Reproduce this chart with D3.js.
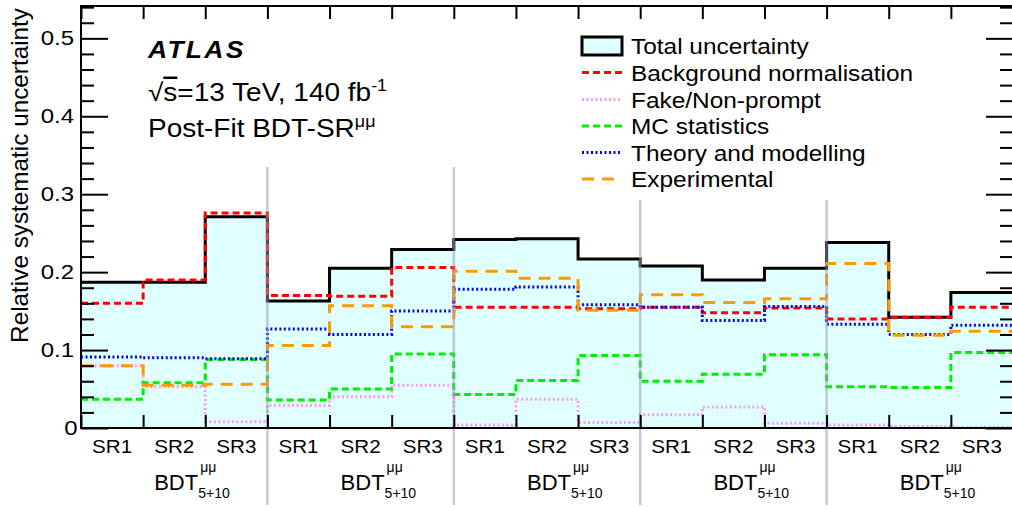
<!DOCTYPE html>
<html>
<head>
<meta charset="utf-8">
<script src="https://cdn.jsdelivr.net/npm/d3@7"></script>
<style>
  body { margin: 0; background: #fff; }
  text { font-family: 'Liberation Sans', Arial, Helvetica, sans-serif; fill: #000; }
</style>
</head>
<body>
<div id="chart"></div>
<script>
// Bins: 5 groups of BDT(5+10) x SR1..SR3
const groups = ['BDT', 'BDT', 'BDT', 'BDT', 'BDT'];
const regions = ['SR1', 'SR2', 'SR3'];

// Relative systematic uncertainty per bin
const totalUnc   = [0.187, 0.187, 0.271, 0.163, 0.205, 0.229, 0.242, 0.243, 0.217, 0.208, 0.190, 0.205, 0.238, 0.142, 0.174];
const bkgNorm    = [0.160, 0.190, 0.276, 0.170, 0.169, 0.206, 0.155, 0.155, 0.153, 0.155, 0.148, 0.154, 0.140, 0.142, 0.155];
const fakeNP     = [0.080, 0.053, 0.008, 0.029, 0.040, 0.055, 0.004, 0.037, 0.007, 0.017, 0.027, 0.006, 0.004, 0.002, 0.001];
const mcStat     = [0.037, 0.058, 0.088, 0.036, 0.050, 0.095, 0.043, 0.061, 0.093, 0.060, 0.069, 0.094, 0.053, 0.052, 0.097];
const theory     = [0.091, 0.090, 0.089, 0.127, 0.120, 0.150, 0.178, 0.181, 0.158, 0.155, 0.138, 0.156, 0.133, 0.120, 0.132];
const experiment = [0.080, 0.055, 0.056, 0.106, 0.157, 0.130, 0.201, 0.192, 0.151, 0.171, 0.161, 0.166, 0.211, 0.119, 0.124];

const yMajor = [0, 0.1, 0.2, 0.3, 0.4, 0.5];

const nBins = totalUnc.length;

// Size of the picture
const width = 1012;
const height = 508;

const svg = d3.select('#chart')
    .append('svg')
    .attr('width', width)
    .attr('height', height);

// Scales
const x = d3.scaleLinear().domain([0, nBins]).range([81, 1013]);
const y = d3.scaleLinear().domain([0, 0.5415]).range([428, 6]);

// the original text is a bit wider than Liberation Sans, so stretch it
function addText(parent, tx, ty, size, sx, str) {
    return parent.append('text')
        .attr('transform', `translate(${tx}, ${ty}) scale(${sx}, 1)`)
        .attr('font-size', size)
        .text(str);
}

// step line through the bins
function stepPath(vals) {
    const pts = vals.map((v, i) => [x(i), y(v)]);
    pts.push([x(vals.length), y(vals[vals.length - 1])]);
    return d3.line().curve(d3.curveStepAfter)(pts);
}

// Filled total uncertainty
const area = d3.area()
    .curve(d3.curveStepAfter)
    .x(d => x(d.i))
    .y0(y(0))
    .y1(d => y(d.v));
const areaPts = totalUnc.map((v, i) => ({ i: i, v: v }));
areaPts.push({ i: nBins, v: totalUnc[nBins - 1] });

svg.append('path')
    .attr('d', area(areaPts))
    .attr('fill', '#e0ffff');

// Component lines
const series = [
    { name: 'Total uncertainty', vals: totalUnc, color: '#000000', dash: null, width: 3 },
    { name: 'Background normalisation', vals: bkgNorm, color: '#ff0000', dash: '7,4', width: 3 },
    { name: 'Fake/Non-prompt', vals: fakeNP, color: '#f59cf5', dash: '2,2.5', width: 3 },
    { name: 'MC statistics', vals: mcStat, color: '#00ee00', dash: '7,4', width: 3 },
    { name: 'Theory and modelling', vals: theory, color: '#0000ff', dash: '2,2.5', width: 3 },
    { name: 'Experimental', vals: experiment, color: '#ff9900', dash: '12,8', width: 3 }
];

svg.selectAll('.hist')
    .data(series)
    .enter()
    .append('path')
    .attr('class', 'hist')
    .attr('d', d => stepPath(d.vals))
    .attr('fill', 'none')
    .attr('stroke', d => d.color)
    .attr('stroke-width', d => d.width)
    .attr('stroke-dasharray', d => d.dash);

// Group separators
const sepBins = [3, 6, 9, 12];
const sepTop = [167, 167, 200, 200];
svg.selectAll('.sep')
    .data(sepBins)
    .enter()
    .append('line')
    .attr('class', 'sep')
    .attr('x1', d => x(d))
    .attr('x2', d => x(d))
    .attr('y1', (d, i) => sepTop[i])
    .attr('y2', 505)
    .attr('stroke', '#9c9cb2')
    .attr('stroke-opacity', 0.55)
    .attr('stroke-width', 2.5);

// Axes (ticks point inwards)
const yMinor = d3.range(0, 0.541, 0.02).filter(v => Math.abs(v * 10 - Math.round(v * 10)) > 1e-6);

const yAxisMajor = d3.axisLeft(y)
    .tickValues(yMajor)
    .tickSize(-27)
    .tickPadding(6)
    .tickFormat(d => d === 0 ? '0' : d3.format('.1f')(d));
const yAxisMinor = d3.axisLeft(y).tickValues(yMinor).tickSize(-13).tickFormat('');
const yRightMajor = d3.axisRight(y).tickValues(yMajor).tickSize(-27).tickFormat('');
const yRightMinor = d3.axisRight(y).tickValues(yMinor).tickSize(-13).tickFormat('');
const xBottom = d3.axisBottom(x).tickValues(d3.range(0, nBins + 1)).tickSize(-13).tickFormat('');
const xTop = d3.axisTop(x).tickValues(d3.range(0, nBins + 1)).tickSize(-13).tickFormat('');

function addAxis(axis, tx, ty) {
    const g = svg.append('g')
        .attr('transform', `translate(${tx}, ${ty})`)
        .call(axis);
    g.select('.domain').remove();
    g.selectAll('line').attr('stroke', '#000').attr('stroke-width', 2);
    g.selectAll('text')
        .attr('font-size', '20.5px')
        .attr('transform', 'scale(1.17, 1)')
        .style('font-family', "'Liberation Sans', Arial, sans-serif")
        .attr('fill', '#000');
    return g;
}
const yAxisG = addAxis(yAxisMajor, 81, 0);
yAxisG.selectAll('text').filter(d => d === 0).attr('x', -3);
addAxis(yAxisMinor, 81, 0);
addAxis(yRightMajor, 1013, 0);
addAxis(yRightMinor, 1013, 0);
addAxis(xBottom, 0, 428);
addAxis(xTop, 0, 6);

// Frame
svg.append('rect')
    .attr('x', 81)
    .attr('y', 6)
    .attr('width', 1013 - 81)
    .attr('height', 428 - 6)
    .attr('fill', 'none')
    .attr('stroke', '#000')
    .attr('stroke-width', 2);

// Y axis title
svg.append('text')
    .attr('transform', 'translate(28, 8) rotate(-90)')
    .attr('text-anchor', 'end')
    .attr('font-size', '24.3px')
    .text('Relative systematic uncertainty');

// Bin labels
d3.range(nBins).forEach(b => {
    addText(svg, x(b + 0.5), 453, '18.6px', 1.11, regions[b % 3])
        .attr('text-anchor', 'middle');
});

// Group labels BDT^{mumu}_{5+10}
groups.forEach((gname, gi) => {
    const cx = x(gi * 3 + 1.5) - 20;
    const t = svg.append('text')
        .attr('x', cx)
        .attr('y', 490)
        .attr('font-size', '22px')
        .text(gname);
    const w = t.node().getComputedTextLength();
    svg.append('text')
        .attr('x', cx + w + 2)
        .attr('y', 472)
        .attr('font-size', '14px')
        .text('\u03bc\u03bc');
    svg.append('text')
        .attr('x', cx + w)
        .attr('y', 498)
        .attr('font-size', '14px')
        .text('5+10');
});

// ATLAS label
addText(svg, 148, 58, '23px', 1.15, 'ATLAS')
    .attr('font-weight', 'bold')
    .attr('font-style', 'italic')
    .attr('letter-spacing', '2px');

const line2 = addText(svg, 148, 101, '25px', 1.12, '');
line2.append('tspan').text('\u221a');
line2.append('tspan').style('text-decoration', 'overline').text('s');
line2.append('tspan').text('=13 TeV, 140 fb');
line2.append('tspan').attr('dy', -10).attr('font-size', '16px').text('-1');

const line3 = addText(svg, 148, 137, '25px', 1.12, '');
line3.append('tspan').text('Post-Fit BDT-SR');
line3.append('tspan').attr('dy', -10).attr('font-size', '16px').text('\u03bc\u03bc');

// Legend
const legendY = [46, 72.5, 99.5, 126, 152.5, 179];
const legend = svg.selectAll('.legend')
    .data(series)
    .enter()
    .append('g')
    .attr('class', 'legend')
    .attr('transform', (d, i) => `translate(582, ${legendY[i]})`);

legend.filter((d, i) => i === 0)
    .append('rect')
    .attr('x', 0)
    .attr('y', -9)
    .attr('width', 40)
    .attr('height', 18)
    .attr('fill', '#e0ffff')
    .attr('stroke', '#000')
    .attr('stroke-width', 3);

legend.filter((d, i) => i > 0)
    .append('line')
    .attr('x1', 0)
    .attr('x2', 40)
    .attr('y1', 0)
    .attr('y2', 0)
    .attr('stroke', d => d.color)
    .attr('stroke-width', d => d.width)
    .attr('stroke-dasharray', d => d.dash);

legend.append('text')
    .attr('transform', 'translate(49, 8) scale(1.085, 1)')
    .attr('font-size', '22.5px')
    .text(d => d.name);
</script>
</body>
</html>
